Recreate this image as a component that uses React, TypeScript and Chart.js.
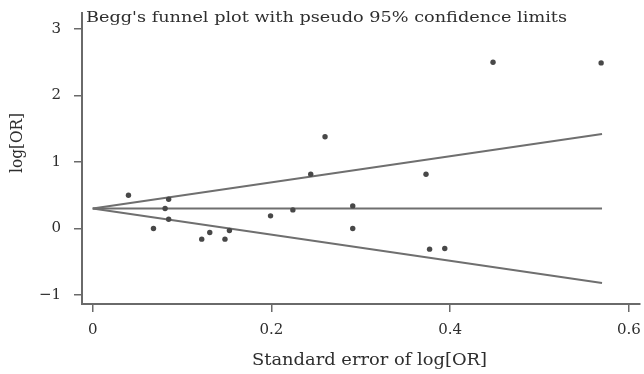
import React, { useEffect, useRef } from 'react';
import { Chart, registerables } from 'chart.js';

Chart.register(...registerables);

// Study estimates
const studySE = [0.448, 0.569, 0.26, 0.244, 0.373, 0.04, 0.085, 0.081, 0.085, 0.068, 0.122, 0.131, 0.148, 0.153, 0.199, 0.224, 0.291, 0.291, 0.377, 0.394];
const studyLogOR = [2.5, 2.49, 1.38, 0.815, 0.815, 0.5, 0.44, 0.3, 0.14, 0.0, -0.16, -0.06, -0.16, -0.03, 0.19, 0.28, 0.34, 0.0, -0.31, -0.3];

// Funnel (pseudo 95% limits) end points
const funnelSE = [0, 0.57];
const upperLimit = [0.3, 1.42];
const pooledLine = [0.3, 0.3];
const lowerLimit = [0.3, -0.82];

const xTicks = [0, 0.2, 0.4, 0.6];
const yTicks = [-1, 0, 1, 2, 3];

const titleText = "Begg's funnel plot with pseudo 95% confidence limits";
const xTitleText = 'Standard error of log[OR]';
const yTitleText = 'log[OR]';

const TEXT_COLOR = '#2e2e2e';
const LINE_COLOR = '#6f6f6f';
const AXIS_COLOR = '#6a6a6a';

function drawFitted(
  ctx: CanvasRenderingContext2D,
  text: string,
  x: number,
  y: number,
  width: number,
  font: string,
  rotate: boolean,
  baseline: CanvasTextBaseline
) {
  ctx.save();
  ctx.font = font;
  ctx.fillStyle = TEXT_COLOR;
  ctx.textAlign = 'left';
  ctx.textBaseline = baseline;
  const w = ctx.measureText(text).width;
  ctx.translate(x, y);
  if (rotate) ctx.rotate(-Math.PI / 2);
  ctx.scale(width / w, 1);
  ctx.fillText(text, 0, 0);
  ctx.restore();
}

const textPlugin = {
  id: 'funnelTexts',
  afterDraw(chart: any) {
    const ctx = chart.ctx as CanvasRenderingContext2D;
    drawFitted(ctx, titleText, 86, 22, 481, '15px "DejaVu Serif"', false, 'alphabetic');
    drawFitted(ctx, xTitleText, 252, 365, 235, '16px "DejaVu Serif"', false, 'alphabetic');
    drawFitted(ctx, yTitleText, 18, 173, 60, '16px "DejaVu Serif"', true, 'middle');
  },
};

const noPad = (s: any) => {
  s.paddingTop = 0;
  s.paddingBottom = 0;
  s.paddingLeft = 0;
  s.paddingRight = 0;
};

export default function App() {
  const canvasRef = useRef<HTMLCanvasElement | null>(null);

  useEffect(() => {
    const canvas = canvasRef.current;
    if (!canvas) return;
    const pts = studySE.map((x, i) => ({ x, y: studyLogOR[i] }));
    const mk = (ys: number[]) => funnelSE.map((x, i) => ({ x, y: ys[i] }));
    const lineDs = (ys: number[]) => ({
      type: 'line' as const,
      data: mk(ys),
      showLine: true,
      borderColor: LINE_COLOR,
      borderWidth: 2,
      pointRadius: 0,
      fill: false,
      order: 2,
    });
    const chart = new Chart(canvas, {
      type: 'scatter',
      data: {
        datasets: [
          {
            data: pts,
            pointRadius: 2.7,
            pointBackgroundColor: '#484848',
            pointBorderWidth: 0,
            order: 1,
          } as any,
          lineDs(upperLimit),
          lineDs(pooledLine),
          lineDs(lowerLimit),
        ],
      },
      options: {
        responsive: false,
        animation: false,
        devicePixelRatio: 1,
        layout: { padding: { top: 13, right: 0, bottom: 0, left: 0 } },
        plugins: {
          legend: { display: false },
          tooltip: { enabled: false },
          title: { display: false },
        },
        scales: {
          x: {
            type: 'linear',
            min: -0.012,
            max: 0.6125,
            afterBuildTicks: (s: any) => {
              s.ticks = xTicks.map((v) => ({ value: v }));
            },
            afterFit: (s: any) => {
              s.height = 70;
              noPad(s);
            },
            ticks: {
              color: TEXT_COLOR,
              font: { family: '"DejaVu Serif"', size: 15 },
              padding: 9,
              maxRotation: 0,
              autoSkip: false,
              callback: (v: any) => String(v),
            },
            grid: {
              drawOnChartArea: false,
              drawTicks: true,
              tickLength: 8,
              color: AXIS_COLOR,
              lineWidth: 1.5,
            },
            border: { display: true, color: AXIS_COLOR, width: 2 },
          },
          y: {
            type: 'linear',
            min: -1.135,
            max: 3.24,
            afterBuildTicks: (s: any) => {
              s.ticks = yTicks.map((v) => ({ value: v }));
            },
            afterFit: (s: any) => {
              s.width = 82;
              noPad(s);
            },
            ticks: {
              color: TEXT_COLOR,
              font: { family: '"DejaVu Serif"', size: 15 },
              padding: 13,
              autoSkip: false,
              callback: (v: any) => (v < 0 ? '\u2212' + Math.abs(v) : String(v)),
            },
            grid: {
              drawOnChartArea: false,
              drawTicks: true,
              tickLength: 8,
              color: AXIS_COLOR,
              lineWidth: 1.5,
            },
            border: { display: true, color: AXIS_COLOR, width: 2 },
          },
        },
      },
      plugins: [textPlugin],
    } as any);
    return () => chart.destroy();
  }, []);

  return (
    <div style={{ position: 'fixed', left: 0, top: 0, width: 644, height: 374, background: '#ffffff' }}>
      <canvas ref={canvasRef} width={644} height={374} style={{ display: 'block' }} />
    </div>
  );
}
